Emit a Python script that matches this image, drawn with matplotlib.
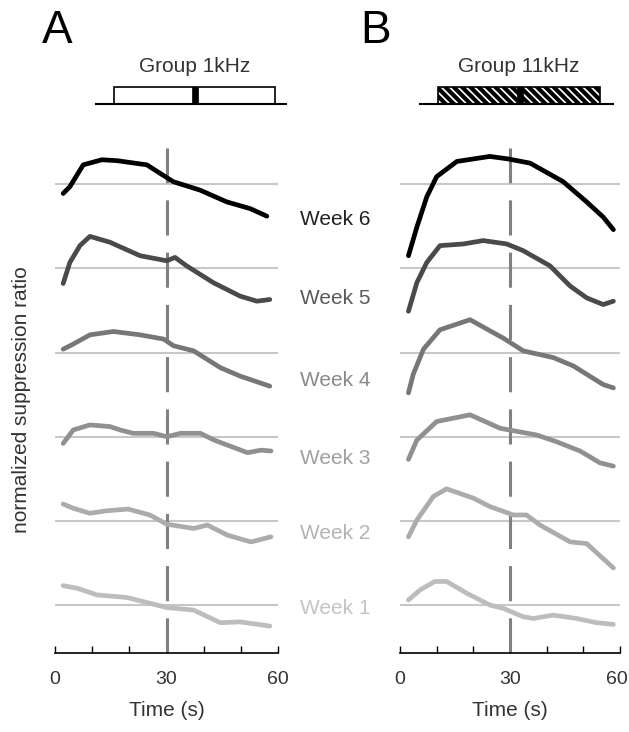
import numpy as np
import matplotlib
matplotlib.use("Agg")
import matplotlib.pyplot as plt
import matplotlib.transforms as mtransforms
from matplotlib.patches import Rectangle

plt.rcParams['font.family'] = ['Liberation Sans', 'DejaVu Sans']
plt.rcParams['hatch.linewidth'] = 3.0

# ---- data: time (s) and offset from each week's baseline (normalized units)
weeks = ["Week 1", "Week 2", "Week 3", "Week 4", "Week 5", "Week 6"]
curve_colors = ["#bdbdbd", "#acacac", "#909090", "#777777", "#4a4a4a", "#000000"]
label_colors = ["#c4c4c4", "#b4b4b4", "#a0a0a0", "#8a8a8a", "#5a5a5a", "#222222"]

# group 1kHz (panel A)
a_t = [
    [2.2, 5.9, 11.3, 19.3, 23.8, 30.1, 37.3, 44.5, 49.8, 57.8],
    [2.2, 4.9, 9.4, 13.9, 19.7, 25.5, 30.1, 37.3, 41.0, 46.4, 52.7, 58.1],
    [2.2, 4.9, 9.4, 14.8, 17.5, 21.1, 26.5, 30.1, 33.8, 39.1, 42.8, 46.4, 51.8, 55.4, 58.1],
    [2.2, 4.9, 9.4, 15.7, 22.9, 29.2, 31.9, 37.3, 44.5, 49.8, 57.8],
    [2.2, 4.0, 6.7, 9.4, 14.8, 22.9, 30.1, 32.3, 35.4, 42.6, 49.8, 54.3, 57.8],
    [2.2, 4.0, 7.6, 12.6, 16.6, 24.7, 31.8, 39.0, 46.2, 52.5, 57.0],
]
a_y = [
    [0.23, 0.20, 0.12, 0.09, 0.04, -0.03, -0.06, -0.21, -0.20, -0.25],
    [0.20, 0.15, 0.09, 0.12, 0.14, 0.07, -0.04, -0.09, -0.05, -0.17, -0.25, -0.19],
    [-0.08, 0.08, 0.14, 0.12, 0.08, 0.04, 0.04, 0.00, 0.04, 0.04, -0.04, -0.10, -0.19, -0.16, -0.17],
    [0.04, 0.10, 0.21, 0.25, 0.21, 0.16, 0.08, 0.02, -0.18, -0.28, -0.40],
    [-0.18, 0.07, 0.27, 0.38, 0.31, 0.15, 0.09, 0.13, 0.03, -0.17, -0.33, -0.39, -0.37],
    [-0.11, -0.03, 0.23, 0.29, 0.28, 0.23, 0.03, -0.07, -0.21, -0.29, -0.38],
]

# group 11kHz (panel B)
b_t = [
    [2.3, 5.5, 9.5, 12.7, 18.2, 24.5, 28.2, 33.6, 36.4, 41.8, 48.2, 53.6, 58.2],
    [2.3, 4.6, 9.1, 12.7, 20.0, 24.5, 30.9, 34.5, 38.2, 46.4, 50.9, 58.2],
    [2.3, 4.6, 10.0, 19.1, 27.3, 37.3, 42.7, 49.1, 54.5, 58.2],
    [2.3, 3.6, 6.4, 10.9, 19.1, 28.2, 33.6, 41.8, 47.3, 55.4, 58.2],
    [2.3, 4.6, 7.3, 10.9, 17.3, 22.7, 29.1, 33.6, 40.9, 46.4, 50.9, 55.4, 58.2],
    [2.3, 4.6, 7.3, 10.0, 15.5, 24.5, 29.5, 35.5, 44.5, 50.9, 55.4, 58.2],
]
b_y = [
    [0.06, 0.18, 0.28, 0.28, 0.14, 0.00, -0.04, -0.14, -0.16, -0.12, -0.16, -0.21, -0.23],
    [-0.19, 0.01, 0.29, 0.38, 0.27, 0.17, 0.07, 0.07, -0.05, -0.25, -0.27, -0.56],
    [-0.27, -0.04, 0.18, 0.26, 0.10, 0.02, -0.06, -0.17, -0.31, -0.35],
    [-0.48, -0.26, 0.04, 0.27, 0.39, 0.17, 0.02, -0.06, -0.16, -0.38, -0.42],
    [-0.51, -0.17, 0.07, 0.27, 0.29, 0.33, 0.29, 0.21, 0.03, -0.21, -0.35, -0.43, -0.39],
    [-0.85, -0.51, -0.15, 0.09, 0.27, 0.33, 0.30, 0.25, 0.03, -0.21, -0.39, -0.54],
]

label_offsets = [-0.04, -0.15, -0.26, -0.33, -0.36, -0.42]
panel_titles = ["Group 1kHz", "Group 11kHz"]
panel_letters = ["A", "B"]

fig = plt.figure(figsize=(6.29, 7.32), dpi=100)
W, H = 629.0, 732.0
ax_a = fig.add_axes([55 / W, 79 / H, 223 / W, 505 / H])
ax_b = fig.add_axes([400 / W, 79 / H, 220 / W, 505 / H])

txt = "#333333"
fs = 15
for ax, ts, ys in [(ax_a, a_t, a_y), (ax_b, b_t, b_y)]:
    for k in range(6):
        ax.axhline(k, color="#c8c8c8", lw=1.5, zorder=1)
    ax.axvline(30, color="#808080", lw=2.2, dashes=(11.5, 5.6), zorder=2)
    for k in range(6):
        ax.plot(ts[k], np.array(ys[k]) + k, color=curve_colors[k], lw=3.4,
                solid_capstyle="round", solid_joinstyle="round", zorder=3)
    ax.set_xlim(0, 60)
    ax.set_ylim(-0.57, 5.43)
    for s in ["left", "right", "top"]:
        ax.spines[s].set_visible(False)
    ax.spines["bottom"].set_linewidth(1.2)
    ax.set_yticks([])
    ax.set_xticks([0, 30, 60])
    ax.set_xticks([10, 20, 40, 50], minor=True)
    ax.tick_params(axis="x", which="both", direction="in", length=5, width=1.0,
                   pad=13, labelsize=14, labelcolor=txt)
    ax.set_xlabel("Time (s)", fontsize=fs, color=txt, labelpad=9)

# keep the right-most "60" inside the canvas
fig.canvas.draw()
last = ax_b.get_xticklabels()[-1]
last.set_transform(last.get_transform() +
                   mtransforms.ScaledTranslation(-3 / 100, 0, fig.dpi_scale_trans))

for k in range(6):
    ax_a.text(75.3, k + label_offsets[k], weeks[k], color=label_colors[k],
              fontsize=fs, ha="center", va="center", clip_on=False)

fig.text(22 / W, 1 - 400 / H, "normalized suppression ratio", rotation=90,
         fontsize=fs, color=txt, ha="center", va="center")

# header schematic, drawn in a pixel-space overlay
ov = fig.add_axes([0, 0, 1, 1], zorder=-1)
ov.set_xlim(0, W)
ov.set_ylim(H, 0)
ov.axis("off")
hdr_line = [(96, 286), (420, 613)]
hdr_box = [(114, 275), (438, 600)]
hdr_mark = [(192, 198), (517, 523)]
hdr_hatch = [None, "\\\\\\\\"]
letter_x = [42, 360]
for i in range(2):
    ov.plot(hdr_line[i], [104, 104], color="black", lw=1.5)
    x0, x1 = hdr_box[i]
    ov.add_patch(Rectangle((x0, 87), x1 - x0, 17, facecolor="white",
                           edgecolor="black", lw=1.2, hatch=hdr_hatch[i]))
    m0, m1 = hdr_mark[i]
    ov.add_patch(Rectangle((m0, 87), m1 - m0, 17, facecolor="black", edgecolor="black", lw=0.5))
    ov.text((x0 + x1) / 2, 67, panel_titles[i], fontsize=fs, color=txt,
            ha="center", va="center")
    ov.text(letter_x[i], 43, panel_letters[i], fontsize=33, color="black",
            ha="left", va="baseline")

fig.savefig("out.png", dpi=100)
